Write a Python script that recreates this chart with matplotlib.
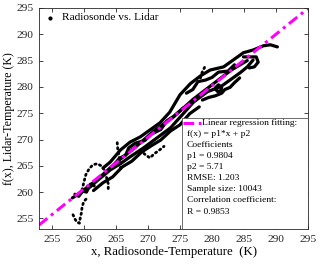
import matplotlib.pyplot as plt

plt.rcParams['font.family'] = ['Liberation Serif', 'DejaVu Serif']

# traces of the radiosonde vs lidar pairs
lower_x = [258.2, 259.4, 261.0, 262.2, 264.1, 265.7, 267.2, 269.3, 271.4, 273.5,
           275.5, 277.1, 279.3, 281.3, 282.8, 284.4, 285.5, 286.4]
lower_y = [258.9, 259.8, 261.0, 262.3, 264.2, 265.4, 266.7, 268.4, 270.3, 272.2,
           274.9, 277.1, 279.1, 280.0, 281.3, 282.7, 283.8, 285.1]

upper_x = [263.0, 264.1, 265.7, 267.2, 268.8, 270.3, 271.9, 273.4, 275.0, 276.6,
           278.2, 279.7, 281.8, 283.3, 284.9, 286.4, 288.0, 289.1, 290.2]
upper_y = [264.6, 265.7, 268.0, 269.5, 270.5, 271.8, 273.2, 275.2, 278.5, 280.6,
           282.1, 283.2, 283.8, 285.1, 286.5, 287.0, 287.8, 288.0, 287.6]

mid_x = [259.0, 262.0, 265.0, 268.0, 271.0, 274.0, 277.0, 280.0, 283.0, 285.5]
mid_y = [259.5, 262.3, 265.6, 268.5, 271.7, 274.3, 277.6, 280.4, 283.2, 285.0]

below_x = [261.5, 263.0, 264.5, 266.0, 267.5, 269.0, 270.5, 272.0, 273.5, 275.0,
           276.5, 278.0]
below_y = [260.3, 261.8, 262.9, 264.8, 265.9, 267.6, 268.8, 269.9, 271.6, 272.8,
           274.9, 276.2]

above_x = [264.5, 265.5, 266.5, 267.0, 268.0, 269.5, 270.5, 272.0, 273.0, 274.0,
           275.5]
above_y = [264.8, 266.4, 267.0, 268.4, 269.3, 269.8, 271.0, 271.9, 273.6, 274.4,
           276.0]

top_x = [276.0, 277.0, 277.8, 279.0, 280.0, 281.0, 282.5, 283.5]
top_y = [278.8, 279.5, 281.0, 281.3, 281.8, 282.8, 283.0, 284.2]

bottom_x = [278.5, 279.5, 280.5, 281.5, 282.0, 282.8, 283.5, 284.3]
bottom_y = [277.5, 278.0, 278.3, 278.8, 279.5, 279.9, 280.8, 281.7]

left_x = [258.6, 259.2, 259.8, 260.4, 261.0, 261.6]
left_y = [259.6, 259.2, 260.2, 260.0, 261.5, 261.2]

hook_x = [258.3, 258.6, 258.9, 259.3, 259.4, 259.6, 259.7, 259.9, 260.2, 260.7]
hook_y = [255.7, 254.9, 254.3, 254.1, 254.9, 256.0, 257.0, 257.9, 258.5, 259.1]

bump_x = [259.7, 260.0, 260.3, 260.8, 261.4, 262.1, 262.7, 263.2, 263.5, 263.8, 263.8]
bump_y = [260.4, 261.9, 263.3, 264.4, 265.2, 265.4, 265.0, 264.2, 262.9, 261.6, 260.4]

column_x = [265.2, 265.3, 265.5, 265.7, 265.7]
column_y = [269.4, 268.0, 266.7, 265.4, 264.2]

spike_x = [278.2, 278.3, 278.5, 278.6, 278.8, 278.9]
spike_y = [281.7, 282.3, 282.9, 283.2, 283.6, 284.0]

scatter_x = [268.8, 269.5, 270.3, 271.0, 271.9, 272.5]
scatter_y = [268.0, 267.2, 266.5, 267.3, 268.1, 268.7]

curl_x = [284.9, 286.9, 287.2, 286.6, 285.8]
curl_y = [285.7, 285.7, 284.7, 283.8, 283.6]

loop_x = [280.5, 281.0, 281.5, 281.4, 280.9, 280.5]
loop_y = [279.8, 280.4, 279.9, 279.3, 279.1, 279.6]

# fit coefficients
p1 = 0.9804
p2 = 5.71
fit_x = [253, 295]
fit_y = [p1 * v + p2 for v in fit_x]

box_lines = ['f(x) = p1*x + p2', 'Coefficients', 'p1 = 0.9804', 'p2 = 5.71',
             'RMSE: 1.203', 'Sample size: 10043', 'Correlation coefficient:',
             'R = 0.9853']

fig = plt.figure(figsize=(3.2, 2.65), dpi=100)
ax = fig.add_axes([0.122, 0.136, 0.841, 0.834])

solid = dict(color='black', lw=2.3, solid_capstyle='round',
             solid_joinstyle='round', zorder=2)
dotted = dict(color='black', lw=2.0, ls=(0, (0.5, 1.3)),
              dash_capstyle='round', zorder=2)

for xs, ys in [(lower_x, lower_y), (upper_x, upper_y), (mid_x, mid_y),
               (below_x, below_y), (above_x, above_y), (top_x, top_y),
               (bottom_x, bottom_y), (left_x, left_y),
               (curl_x, curl_y), (loop_x, loop_y)]:
    ax.plot(xs, ys, **solid)
for xs, ys in [(hook_x, hook_y), (bump_x, bump_y), (column_x, column_y),
               (spike_x, spike_y), (scatter_x, scatter_y)]:
    ax.plot(xs, ys, **dotted)

ax.plot(fit_x, fit_y, color='#FF00FF', lw=2.2, ls=(0, (3.5, 1.5, 1, 1.5)), zorder=2.2)

ax.set_xlim(253, 295)
ax.set_ylim(253, 295)
ax.set_xticks(range(255, 296, 5))
ax.set_yticks(range(255, 296, 5))
ax.tick_params(direction='in', length=3, width=0.6, top=True, right=True,
               labelsize=8.2, colors='#262626', pad=4)
for s in ax.spines.values():
    s.set_linewidth(0.6)
    s.set_color('#262626')

ax.set_xlabel('x, Radiosonde-Temperature  (K)', fontsize=9.2, labelpad=2)
ax.set_ylabel('f(x), Lidar-Temperature (K)', fontsize=8.6, labelpad=1)

# legend for the data
ax.plot([0.041], [0.955], '.', color='black', ms=4, transform=ax.transAxes)
ax.text(0.086, 0.955, 'Radiosonde vs. Lidar', transform=ax.transAxes,
        fontsize=8.2, va='center', ha='left')

# fit box
ax.add_patch(plt.Rectangle((0.532, 0.0), 0.468, 0.502, transform=ax.transAxes,
                           facecolor='white', edgecolor='#555555', lw=0.6,
                           zorder=2.4))
ax.plot([0.535, 0.600], [0.48, 0.48], color='#FF00FF', lw=2.2,
        ls=(0, (3.5, 1.5, 1, 1.5)), transform=ax.transAxes, zorder=3)
ax.text(0.607, 0.48, 'Linear regression fitting:', transform=ax.transAxes,
        fontsize=6.8, va='center', ha='left', zorder=3)
for i, line in enumerate(box_lines):
    ax.text(0.55, 0.43 - i * 0.0502, line, transform=ax.transAxes,
            fontsize=6.8, va='center', ha='left', zorder=3)

fig.savefig('out.png', dpi=100)
